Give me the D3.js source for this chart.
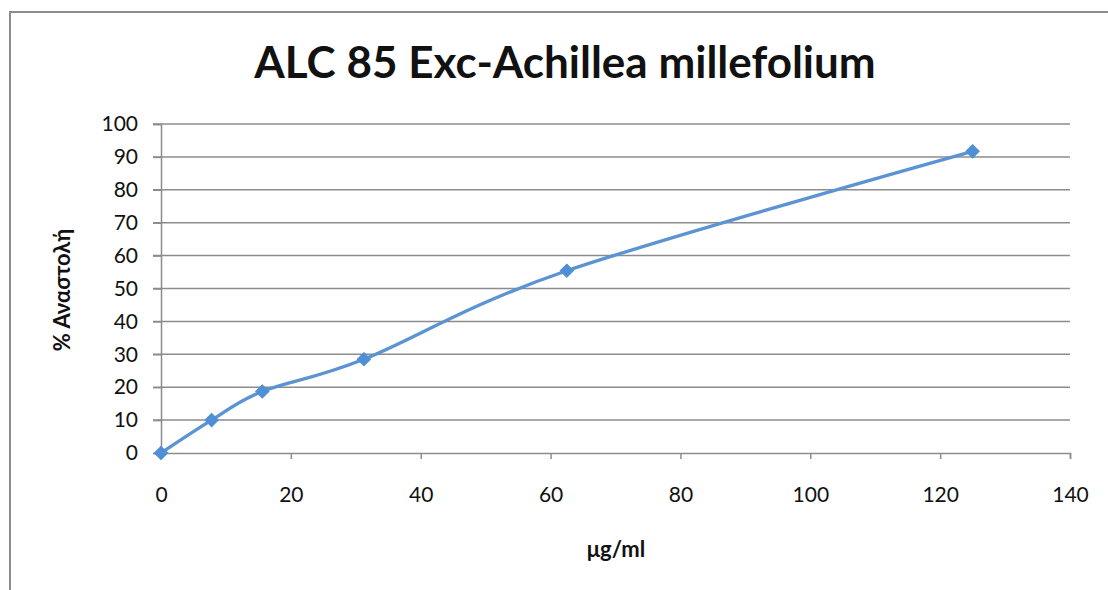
<!DOCTYPE html>
<html><head><meta charset="utf-8">
<script src="https://cdn.jsdelivr.net/npm/d3@7"></script>
<style>body{margin:0;background:#fff}svg{display:block}</style>
</head><body><svg id="c" width="1108" height="590"></svg>
<script>
const concentrations = [0, 7.8, 15.6, 31.25, 62.5, 125];
const inhibition = [0, 10, 18.7, 28.5, 55.4, 91.7];
const xTicks = [0, 20, 40, 60, 80, 100, 120, 140];
const yTicks = [0, 10, 20, 30, 40, 50, 60, 70, 80, 90, 100];
const title = "ALC 85 Exc-Achillea millefolium";
const xTitle = "μg/ml";
const yTitle = "% Αναστολή";

const svg = d3.select("#c");
const font = "Lato, 'Open Sans', sans-serif";
svg.append("rect").attr("x",10).attr("y",12).attr("width",1108).attr("height",600)
  .attr("fill","#fff").attr("stroke","#8c8c8c").attr("stroke-width",2);

const x = d3.scaleLinear().domain([0,140]).range([161,1070]);
const y = d3.scaleLinear().domain([0,100]).range([453,124]);

svg.append("g").selectAll("line").data(yTicks.filter(d=>d>0)).join("line")
  .attr("x1",153).attr("x2",1070).attr("y1",d=>y(d)).attr("y2",d=>y(d))
  .attr("stroke","#8c8c8c").attr("stroke-width",1.5);

const gy = svg.append("g").attr("transform",`translate(${x(0)},0)`)
  .call(d3.axisLeft(y).tickValues(yTicks).tickSize(8).tickPadding(15));
gy.select(".domain").attr("stroke","#8c8c8c").attr("stroke-width",1.5);
gy.selectAll(".tick line").attr("stroke","#8c8c8c").attr("stroke-width",1.5);
gy.selectAll("text").attr("font-family",font).attr("font-size",21).attr("fill","#111");

const gx = svg.append("g").attr("transform",`translate(0,${y(0)})`)
  .call(d3.axisBottom(x).tickValues(xTicks).tickSize(6).tickPadding(28));
gx.select(".domain").attr("stroke","#8c8c8c").attr("stroke-width",1.5);
gx.selectAll(".tick line").attr("stroke","#8c8c8c").attr("stroke-width",1.5);
gx.selectAll("text").attr("font-family",font).attr("font-size",21).attr("fill","#111");

const data = concentrations.map((c,i)=>({c, v: inhibition[i]}));
const line = d3.line().x(d=>x(d.c)).y(d=>y(d.v)).curve(d3.curveCardinal.tension(0));
svg.append("path").datum(data).attr("d",line).attr("fill","none")
  .attr("stroke","#5b93d3").attr("stroke-width",3.4);
svg.append("g").selectAll("path").data(data).join("path")
  .attr("transform",d=>`translate(${x(d.c)},${y(d.v)}) rotate(45)`)
  .attr("d",d3.symbol(d3.symbolSquare,88))
  .attr("fill","#4f8fd6").attr("stroke","#4f8fd6");

svg.append("text").attr("x",565).attr("y",78).attr("text-anchor","middle")
  .attr("font-family",font).attr("font-weight","bold").attr("font-size",44).attr("fill","#111").text(title);
svg.append("text").attr("x",616).attr("y",557).attr("text-anchor","middle")
  .attr("font-family",font).attr("font-weight","bold").attr("font-size",22).attr("fill","#111").text(xTitle);
svg.append("text").attr("transform","translate(70,290) rotate(-90)").attr("text-anchor","middle")
  .attr("font-family",font).attr("font-weight","bold").attr("font-size",22).attr("fill","#111").text(yTitle);
</script></body></html>
